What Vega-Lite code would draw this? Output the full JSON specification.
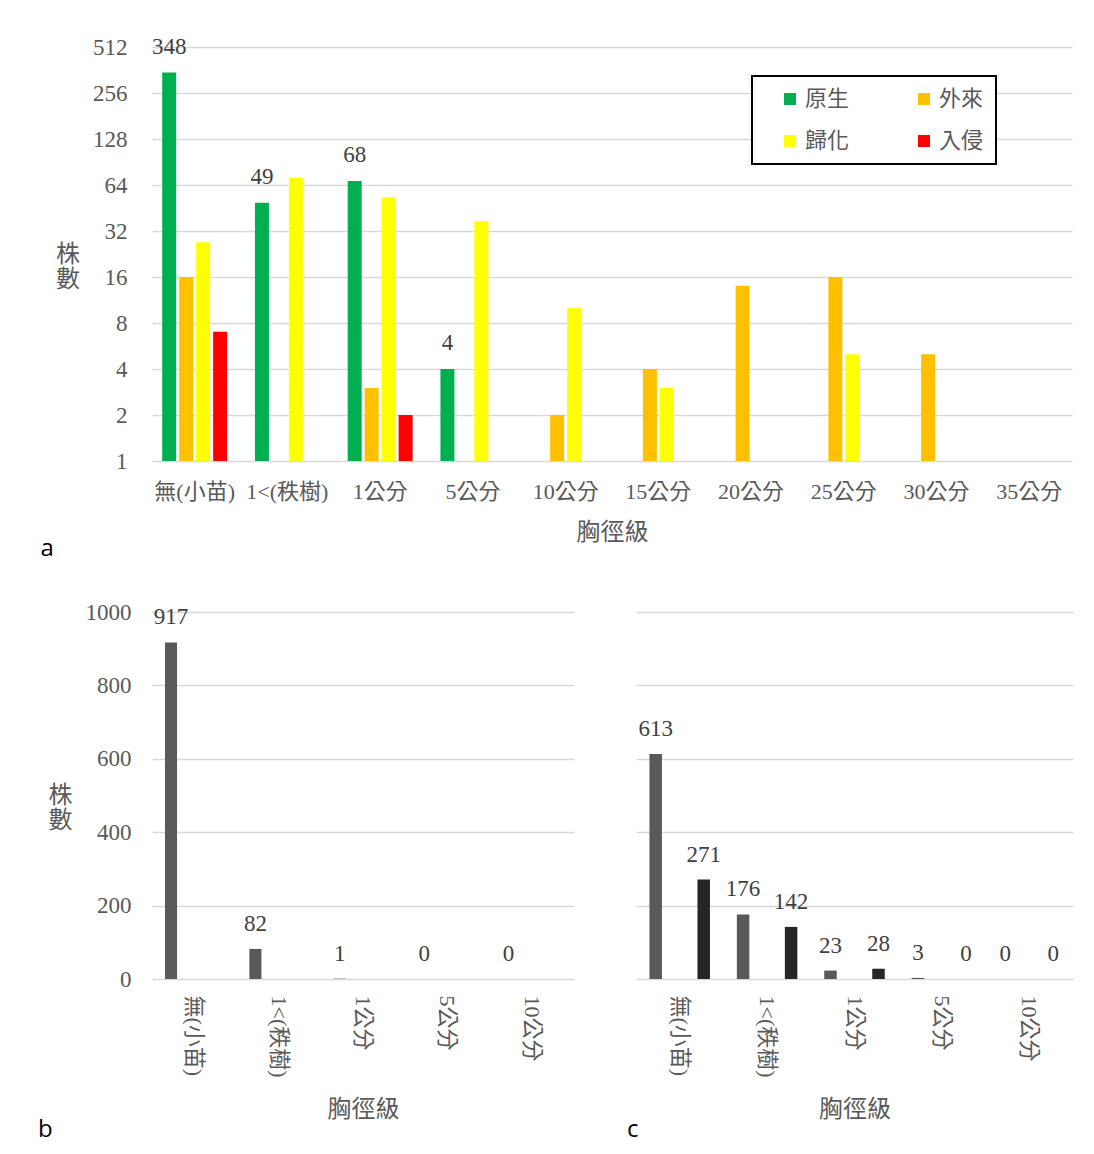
{
  "$schema": "https://vega.github.io/schema/vega-lite/v6.json",
  "padding": {"left": 38, "top": 35, "right": 10, "bottom": 5},
  "spacing": 40,
  "align": "none",
  "resolve": {"scale": {"color": "independent", "xOffset": "independent", "x": "independent", "y": "independent"}, "legend": {"color": "independent"}},
  "config": {
    "view": {"stroke": null},
    "font": "Liberation Serif, Noto Sans CJK TC",
    "legend": {"strokeWidth": 2},
    "axis": {
      "labelFont": "Liberation Serif, Noto Sans CJK TC",
      "titleFont": "Liberation Serif, Noto Sans CJK TC",
      "labelColor": "#595959",
      "titleColor": "#595959",
      "titleFontWeight": "normal",
      "gridColor": "#d9d9d9",
      "gridWidth": 1.5,
      "domain": false,
      "ticks": false
    },
    "title": {"font": "Open Sans", "fontSize": 24, "fontWeight": "normal", "color": "#000000", "orient": "bottom", "anchor": "start", "frame": "bounds", "offset": 0}
  },
  "datasets": {
    "a": [
      {"dbh": "無(小苗)", "type": "原生", "count": 348},
      {"dbh": "無(小苗)", "type": "外來", "count": 16},
      {"dbh": "無(小苗)", "type": "歸化", "count": 27},
      {"dbh": "無(小苗)", "type": "入侵", "count": 7},
      {"dbh": "1<(秩樹)", "type": "原生", "count": 49},
      {"dbh": "1<(秩樹)", "type": "歸化", "count": 71},
      {"dbh": "1公分", "type": "原生", "count": 68},
      {"dbh": "1公分", "type": "外來", "count": 3},
      {"dbh": "1公分", "type": "歸化", "count": 53},
      {"dbh": "1公分", "type": "入侵", "count": 2},
      {"dbh": "5公分", "type": "原生", "count": 4},
      {"dbh": "5公分", "type": "歸化", "count": 37},
      {"dbh": "10公分", "type": "外來", "count": 2},
      {"dbh": "10公分", "type": "歸化", "count": 10},
      {"dbh": "15公分", "type": "外來", "count": 4},
      {"dbh": "15公分", "type": "歸化", "count": 3},
      {"dbh": "20公分", "type": "外來", "count": 14},
      {"dbh": "25公分", "type": "外來", "count": 16},
      {"dbh": "25公分", "type": "歸化", "count": 5},
      {"dbh": "30公分", "type": "外來", "count": 5}
    ],
    "b": [
      {"dbh": "無(小苗)", "series": "s1", "count": 917},
      {"dbh": "1<(秩樹)", "series": "s1", "count": 82},
      {"dbh": "1公分", "series": "s1", "count": 1},
      {"dbh": "5公分", "series": "s1", "count": 0},
      {"dbh": "10公分", "series": "s1", "count": 0}
    ],
    "c": [
      {"dbh": "無(小苗)", "series": "s1", "count": 613},
      {"dbh": "無(小苗)", "series": "s2", "count": 271},
      {"dbh": "1<(秩樹)", "series": "s1", "count": 176},
      {"dbh": "1<(秩樹)", "series": "s2", "count": 142},
      {"dbh": "1公分", "series": "s1", "count": 23},
      {"dbh": "1公分", "series": "s2", "count": 28},
      {"dbh": "5公分", "series": "s1", "count": 3},
      {"dbh": "5公分", "series": "s2", "count": 0},
      {"dbh": "10公分", "series": "s1", "count": 0},
      {"dbh": "10公分", "series": "s2", "count": 0}
    ]
  },
  "vconcat": [
    {
      "width": 920,
      "height": 414,
      "title": {"text": "a", "dx": -15, "offset": -7},
      "data": {"name": "a"},
      "encoding": {
        "x": {
          "field": "dbh", "type": "nominal",
          "sort": ["無(小苗)", "1<(秩樹)", "1公分", "5公分", "10公分", "15公分", "20公分", "25公分", "30公分", "35公分"],
          "scale": {"domain": ["無(小苗)", "1<(秩樹)", "1公分", "5公分", "10公分", "15公分", "20公分", "25公分", "30公分", "35公分"], "paddingInner": 0.3, "paddingOuter": 0.11},
          "axis": {"title": "胸徑級", "labelAngle": 0, "labelFont": "Liberation Serif, Noto Sans CJK TC", "labelFontSize": 22, "labelPadding": 20, "titleFontSize": 24, "titlePadding": 18}
        },
        "xOffset": {
          "field": "type", "type": "nominal",
          "scale": {"domain": ["原生", "外來", "歸化", "入侵"], "paddingInner": 0.176, "paddingOuter": 0}
        },
        "y": {
          "field": "count", "type": "quantitative",
          "scale": {"type": "log", "base": 2, "domain": [1, 512]},
          "axis": {"values": [1, 2, 4, 8, 16, 32, 64, 128, 256, 512], "format": "d", "labelFont": "Liberation Serif", "labelFontSize": 23, "labelPadding": 25, "title": ["株", "數"], "titleAngle": 0, "titleAlign": "right", "titleBaseline": "middle", "titleFontSize": 24, "titleLineHeight": 25, "titlePadding": -12}
        }
      },
      "layer": [
        {
          "mark": {"type": "bar"},
          "encoding": {
            "y2": {"datum": 1},
            "color": {
              "field": "type", "type": "nominal",
              "scale": {"domain": ["原生", "歸化", "外來", "入侵"], "range": ["#00b050", "#ffff00", "#ffc000", "#ff0000"]},
              "legend": {
                "title": null, "orient": "none", "legendX": 600, "legendY": 29, "columns": 2,
                "padding": 12, "rowPadding": 20, "columnPadding": 48, "symbolOffset": 15,
                "symbolType": "square", "symbolSize": 144, "symbolStrokeWidth": 0,
                "labelFont": "Liberation Serif, Noto Sans CJK TC", "labelFontSize": 22, "labelColor": "#595959", "labelOffset": 4,
                "labelExpr": "datum.label == '外來' || datum.label == '入侵' ? datum.label + '\u3000' : datum.label",
                "strokeColor": "#000000", "fillColor": "#ffffff"
              }
            }
          }
        },
        {
          "transform": [{"filter": "datum.type == '原生'"}],
          "mark": {"type": "text", "baseline": "alphabetic", "dy": -19, "fontSize": 23, "color": "#404040", "font": "Liberation Serif"},
          "encoding": {"text": {"field": "count", "type": "quantitative"}}
        }
      ]
    },
    {
      "align": "none",
      "spacing": 53,
      "resolve": {"scale": {"color": "independent", "xOffset": "independent", "x": "independent", "y": "independent"}},
      "hconcat": [
        {
          "width": 422,
          "height": 367,
          "title": {"text": "b", "dx": -10, "offset": -3},
          "data": {"name": "b"},
          "encoding": {
            "x": {
              "field": "dbh", "type": "nominal",
              "sort": ["無(小苗)", "1<(秩樹)", "1公分", "5公分", "10公分"],
              "scale": {"paddingInner": 0, "paddingOuter": 0},
              "axis": {"title": "胸徑級", "labelAngle": 90, "labelFont": "Liberation Serif, Noto Sans CJK TC", "labelFontSize": 22, "labelPadding": 16, "titleFontSize": 24, "titlePadding": 20}
            },
            "xOffset": {"field": "series", "type": "nominal", "scale": {"domain": ["s1", "s2"], "paddingInner": 0.74, "paddingOuter": 0.28}},
            "y": {
              "field": "count", "type": "quantitative",
              "scale": {"domain": [0, 1000]},
              "axis": {"values": [0, 200, 400, 600, 800, 1000], "format": "d", "labelFont": "Liberation Serif", "labelFontSize": 23, "labelPadding": 21, "title": ["株", "數"], "titleAngle": 0, "titleAlign": "right", "titleBaseline": "middle", "titleFontSize": 24, "titleLineHeight": 25, "titlePadding": -12}
            }
          },
          "layer": [
            {
              "mark": {"type": "bar", "color": "#595959"},
              "encoding": {}
            },
            {
              "mark": {"type": "text", "baseline": "alphabetic", "dy": -18, "fontSize": 23, "color": "#404040", "font": "Liberation Serif"},
              "encoding": {"text": {"field": "count", "type": "quantitative"}}
            }
          ]
        },
        {
          "width": 437,
          "height": 367,
          "title": {"text": "c", "dx": -9, "offset": -3},
          "data": {"name": "c"},
          "encoding": {
            "x": {
              "field": "dbh", "type": "nominal",
              "sort": ["無(小苗)", "1<(秩樹)", "1公分", "5公分", "10公分"],
              "scale": {"paddingInner": 0, "paddingOuter": 0},
              "axis": {"title": "胸徑級", "labelAngle": 90, "labelFont": "Liberation Serif, Noto Sans CJK TC", "labelFontSize": 22, "labelPadding": 16, "titleFontSize": 24, "titlePadding": 20}
            },
            "xOffset": {"field": "series", "type": "nominal", "scale": {"domain": ["s1", "s2"], "paddingInner": 0.74, "paddingOuter": 0.28}},
            "y": {
              "field": "count", "type": "quantitative",
              "scale": {"domain": [0, 1000]},
              "axis": {"values": [0, 200, 400, 600, 800, 1000], "labels": false, "title": null}
            }
          },
          "layer": [
            {
              "mark": {"type": "bar"},
              "encoding": {
                "color": {"field": "series", "type": "nominal", "scale": {"domain": ["s1", "s2"], "range": ["#595959", "#262626"]}, "legend": null}
              }
            },
            {
              "mark": {"type": "text", "baseline": "alphabetic", "dy": -18, "fontSize": 23, "color": "#404040", "font": "Liberation Serif"},
              "encoding": {"text": {"field": "count", "type": "quantitative"}}
            }
          ]
        }
      ]
    }
  ]
}
